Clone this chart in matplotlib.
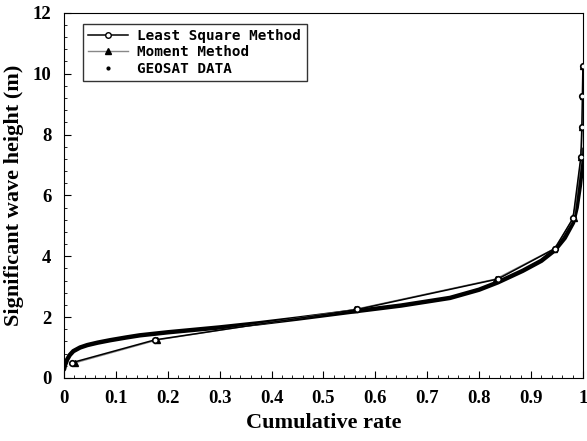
import matplotlib.pyplot as plt
from matplotlib.lines import Line2D
from matplotlib.ticker import MultipleLocator

# wave height classes (m) and cumulative rates of the two fitted distributions
heights = [0.5, 1.25, 2.25, 3.25, 4.25, 5.25, 7.25, 8.25, 9.25, 10.25]
ls_rate = [0.015, 0.175, 0.565, 0.836, 0.946, 0.981, 0.996, 0.998, 0.999, 1.0]
mm_rate = [0.022, 0.18, 0.56, 0.832, 0.945, 0.982, 0.997, 0.999, 1.0, 1.0]

# observed cumulative distribution (GEOSAT altimeter)
geo_rate = [0.0, 0.002, 0.006, 0.011, 0.018, 0.031, 0.045, 0.065, 0.089,
            0.12, 0.146, 0.2, 0.25, 0.3, 0.377, 0.45, 0.551, 0.65, 0.744,
            0.8, 0.836, 0.884, 0.92, 0.946, 0.965, 0.981, 0.988, 0.994, 0.998, 1.0]
geo_height = [0.28, 0.42, 0.6, 0.75, 0.88, 1.0, 1.08, 1.16, 1.24,
              1.33, 1.4, 1.5, 1.58, 1.66, 1.8, 1.95, 2.17, 2.38, 2.63,
              2.9, 3.14, 3.52, 3.85, 4.2, 4.6, 5.1, 5.6, 6.3, 6.9, 7.5]

x_ticks = [0, 0.1, 0.2, 0.3, 0.4, 0.5, 0.6, 0.7, 0.8, 0.9, 1]
x_tick_labels = ["0", "0.1", "0.2", "0.3", "0.4", "0.5", "0.6", "0.7", "0.8", "0.9", "1"]
y_ticks = [0, 2, 4, 6, 8, 10, 12]

fig = plt.figure(figsize=(5.87, 4.41), dpi=100)
ax = fig.add_axes([0.109, 0.143, 0.884, 0.828])

ax.plot(geo_rate, geo_height, color="black", lw=3.2, solid_capstyle="round",
        solid_joinstyle="round", zorder=2)
ax.plot(mm_rate, heights, color="#888888", lw=1.0, marker="^", ms=4,
        mfc="black", mec="black", zorder=3)
ax.plot(ls_rate, heights, color="black", lw=1.1, marker="o", ms=4,
        mfc="white", mec="black", mew=1.2, zorder=4)

handles = [
    Line2D([], [], color="black", lw=1.1, marker="o", ms=4, mfc="white", mec="black"),
    Line2D([], [], color="#888888", lw=1.0, marker="^", ms=4, mfc="black", mec="black"),
    Line2D([], [], color="black", lw=0, marker=".", ms=4),
]
leg = ax.legend(handles, ["Least Square Method", "Moment Method", "GEOSAT DATA"],
                loc="upper left", bbox_to_anchor=(0.022, 0.99), frameon=True,
                fancybox=False, edgecolor="black", borderpad=0.4,
                labelspacing=0.15, handlelength=2.8, handletextpad=0.6,
                prop={"family": "DejaVu Sans Mono", "weight": "bold", "size": 10.3})
leg.get_frame().set_linewidth(1.0)

ax.set_xlim(0, 1)
ax.set_ylim(0, 12)
ax.set_xticks(x_ticks)
ax.set_xticklabels(x_tick_labels)
ax.set_yticks(y_ticks)
ax.xaxis.set_minor_locator(MultipleLocator(0.02))
ax.yaxis.set_minor_locator(MultipleLocator(0.4))
ax.tick_params(which="major", direction="in", length=5, width=0.8, pad=9)
ax.tick_params(which="minor", direction="in", length=2, width=0.6)
for lab in ax.get_xticklabels() + ax.get_yticklabels():
    lab.set_fontfamily("Liberation Serif")
    lab.set_fontweight("bold")
    lab.set_fontsize(13.5)

for sp in ax.spines.values():
    sp.set_linewidth(0.8)

ax.set_xlabel("Cumulative rate", fontfamily="Liberation Serif", fontweight="bold",
              fontsize=16, labelpad=4)
ax.set_ylabel("Significant wave height (m)", fontfamily="Liberation Serif",
              fontweight="bold", fontsize=16, labelpad=6)

fig.savefig("out.png", dpi=100)
